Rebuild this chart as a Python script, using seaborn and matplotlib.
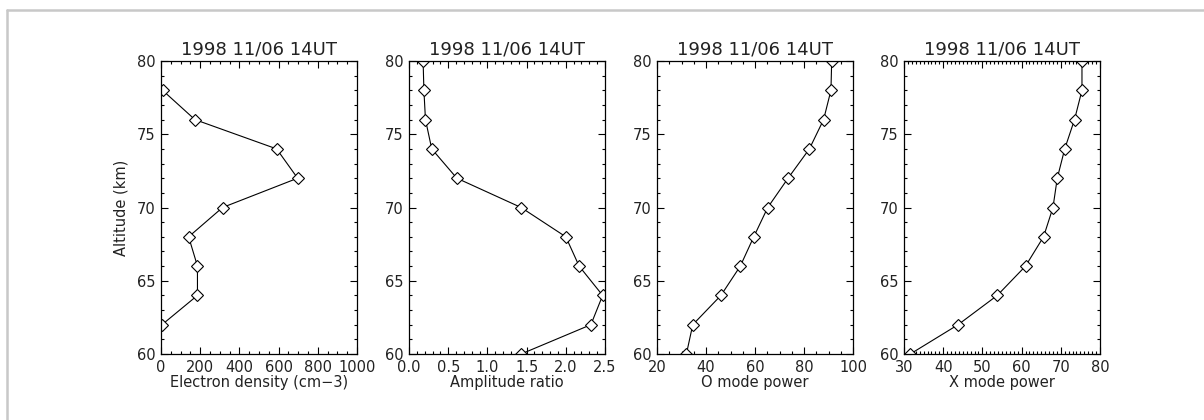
import numpy as np
import pandas as pd
import matplotlib
matplotlib.use("Agg")
import matplotlib.pyplot as plt
from matplotlib.ticker import MultipleLocator
from matplotlib.lines import Line2D
import seaborn as sns

sns.set_style("white")
plt.rcParams['font.family'] = ['DejaVu Sans']

title = "1998 11/06 14UT"

alt_ne = [62, 64, 66, 68, 70, 72, 74, 76, 78]
electron_density = [5, 186, 186, 141, 314, 697, 590, 173, 8]

altitude = [60, 62, 64, 66, 68, 70, 72, 74, 76, 78, 80]
amplitude_ratio = [1.43, 2.32, 2.47, 2.17, 2.0, 1.43, 0.61, 0.29, 0.21, 0.19, 0.18]
o_mode_power = [32.0, 34.6, 46.1, 54.0, 59.5, 65.2, 73.5, 82.2, 88.0, 91.0, 91.3]
x_mode_power = [31.6, 43.8, 53.8, 61.0, 65.6, 68.0, 69.1, 71.0, 73.5, 75.4, 75.4]

xlabels = ["Electron density (cm\u22123)", "Amplitude ratio", "O mode power", "X mode power"]
xlims = [(0, 1000), (0, 2.5), (20, 100), (30, 80)]
xmajor = [200, 0.5, 20, 10]
xminor = [50, 0.1, 5, 1]
xfmt = ["{:.0f}", "{:.1f}", "{:.0f}", "{:.0f}"]

panels = [
    (electron_density, alt_ne),
    (amplitude_ratio, altitude),
    (o_mode_power, altitude),
    (x_mode_power, altitude),
]

W, H = 1204, 420
fig = plt.figure(figsize=(W / 100, H / 100), dpi=100)

lefts = [161, 409, 657, 904]
pw = 196
top, bottom = 61, 354

text_color = "#222222"
for i, (xv, yv) in enumerate(panels):
    ax = fig.add_axes([lefts[i] / W, (H - bottom) / H, pw / W, (bottom - top) / H])
    df = pd.DataFrame({"x": xv, "y": yv})
    sns.lineplot(data=df, x="x", y="y", sort=False, estimator=None, ax=ax,
                 color="black", linewidth=0.8, marker="D", markersize=6.5,
                 markerfacecolor="white", markeredgecolor="black",
                 markeredgewidth=0.8)
    ax.set_xlim(*xlims[i])
    ax.set_ylim(60, 80)
    ax.xaxis.set_major_locator(MultipleLocator(xmajor[i]))
    ax.xaxis.set_minor_locator(MultipleLocator(xminor[i]))
    ax.yaxis.set_major_locator(MultipleLocator(5))
    ax.yaxis.set_minor_locator(MultipleLocator(1))
    ticks = np.arange(xlims[i][0], xlims[i][1] + xmajor[i] / 2, xmajor[i])
    ax.set_xticks(ticks)
    ax.set_xticklabels([xfmt[i].format(t) for t in ticks])
    ax.tick_params(which="both", direction="in", top=True, right=True,
                   bottom=True, left=True, colors="black",
                   labelcolor=text_color, labelsize=10.5, width=0.8)
    ax.tick_params(which="major", length=5, pad=4)
    ax.tick_params(which="minor", length=2.5)
    for s in ax.spines.values():
        s.set_color("black")
        s.set_linewidth(0.9)
        s.set_visible(True)
    ax.set_title(title, fontsize=13, color=text_color, pad=5)
    ax.set_xlabel(xlabels[i], fontsize=10.5, color=text_color, labelpad=0)
    if i == 0:
        ax.set_ylabel("Altitude (km)", fontsize=10.5, color=text_color, labelpad=6)
    else:
        ax.set_ylabel("")

# light gray frame lines (top and left)
fig.add_artist(Line2D([7 / W, 7 / W], [0, 1 - 10 / H], transform=fig.transFigure,
                      color="#c8c8c8", linewidth=1.8))
fig.add_artist(Line2D([7 / W, 1], [1 - 10 / H, 1 - 10 / H], transform=fig.transFigure,
                      color="#c8c8c8", linewidth=1.8))

fig.savefig("out.png", dpi=100, facecolor="white")
